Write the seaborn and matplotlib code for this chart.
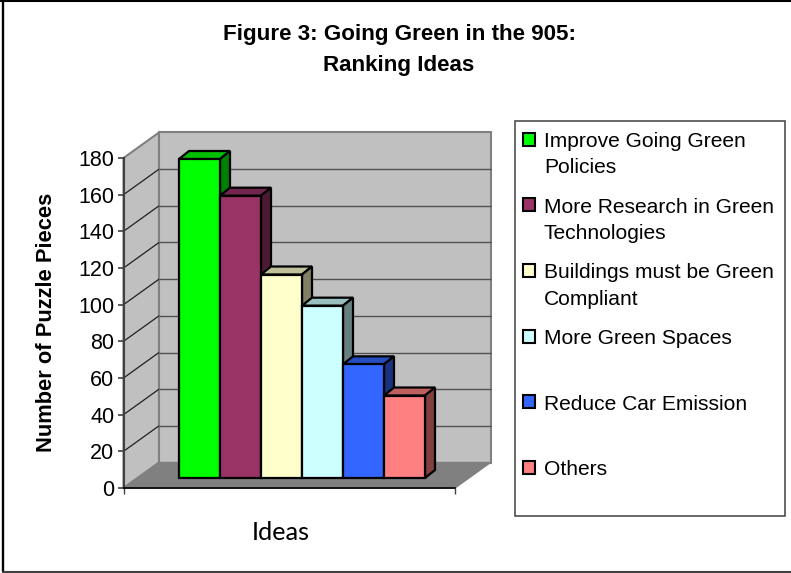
import matplotlib
matplotlib.use("Agg")
import matplotlib.pyplot as plt
import numpy as np
import pandas as pd
import seaborn as sns
from matplotlib.colors import to_rgb
from matplotlib.legend_handler import HandlerPatch
from matplotlib.lines import Line2D
from matplotlib.patches import Patch, Polygon, Rectangle

# Chart content
title_lines = ["Figure 3: Going Green in the 905:", "Ranking Ideas"]
ideas = ["Improve Going Green\nPolicies", "More Research in Green\nTechnologies",
         "Buildings must be Green\nCompliant", "More Green Spaces\n ",
         "Reduce Car Emission\n ", "Others\n "]
pieces = [174, 154, 111, 94, 62, 45]
colors = ["#00FF00", "#993366", "#FFFFCC", "#CCFFFF", "#3366FF", "#FF8080"]
y_ticks = list(range(0, 181, 20))

W, H = 791, 573
sns.set_theme(style="white")
plt.rcParams["font.family"] = ["Liberation Sans", "DejaVu Sans"]

fig = plt.figure(figsize=(W / 100, H / 100), dpi=100, facecolor="white")


def fx(px):
    return px / W


def fy(py):
    return 1 - py / H


# Axes box in pixels: the front edge of the floor and the y axis
left, right, base, top = 123.5, 455.0, 488.0, 158.0
ax = fig.add_axes([fx(left), fy(base), fx(right - left), (base - top) / H])
ax.patch.set_alpha(0)

df = pd.DataFrame({"idea": ideas, "pieces": pieces})
lift = 5.45  # bars stand part-way into the floor
sns.barplot(data=df, x="idea", y="pieces", hue="idea", palette=colors, order=ideas,
            hue_order=ideas, dodge=False, width=1.0, legend=False, bottom=lift,
            edgecolor="black", linewidth=1.6, saturation=1, ax=ax)

xlim = (-0.5 - 55.5 / 41, -0.5 + 276 / 41)
ax.set_xlim(xlim)
ax.set_ylim(0, 180)

# Oblique offsets in data units
x_per_px = (xlim[1] - xlim[0]) / (right - left)
y_per_px = 180 / (base - top)
wall_dx, wall_dy = 35.5 * x_per_px, 25.5 * y_per_px
bar_dx, bar_dy = 10 * x_per_px, 8 * y_per_px


def face(points, color, edge, lw, z):
    ax.add_patch(Polygon(points, closed=True, facecolor=color, edgecolor=edge,
                         linewidth=lw, zorder=z, clip_on=False, joinstyle="miter"))


bars = [p for p in ax.patches if isinstance(p, Rectangle)][:len(pieces)]

x0, x1 = xlim
ymax = 180
wall_edge = "#808080"
face([(x0, 0), (x0 + wall_dx, wall_dy), (x0 + wall_dx, ymax + wall_dy), (x0, ymax)],
     "#C0C0C0", wall_edge, 1.5, 0.5)
face([(x0 + wall_dx, wall_dy), (x1 + wall_dx, wall_dy), (x1 + wall_dx, ymax + wall_dy),
      (x0 + wall_dx, ymax + wall_dy)], "#C0C0C0", wall_edge, 1.5, 0.5)
face([(x0, 0), (x1, 0), (x1 + wall_dx, wall_dy), (x0 + wall_dx, wall_dy)],
     "#808080", wall_edge, 1.0, 0.6)

# Gridlines run along the side wall, then across the back wall
for v in y_ticks[1:-1]:
    ax.plot([x0, x0 + wall_dx], [v, v + wall_dy], color="#202020", lw=0.9, zorder=0.7,
            clip_on=False, solid_capstyle="butt")
    ax.plot([x0 + wall_dx, x1 + wall_dx], [v + wall_dy, v + wall_dy], color="#505050",
            lw=1.0, zorder=0.7, clip_on=False, solid_capstyle="butt")

# Top and side faces for each bar, stacked left to right
for i, bar in enumerate(bars):
    xa, w = bar.get_x(), bar.get_width()
    ya, h = bar.get_y(), bar.get_height()
    rgb = np.array(to_rgb(colors[i]))
    z = 3 + i
    bar.set_zorder(z + 0.2)
    bar.set_clip_on(False)
    xb, yt = xa + w, ya + h
    face([(xa, yt), (xb, yt), (xb + bar_dx, yt + bar_dy), (xa + bar_dx, yt + bar_dy)],
         tuple(rgb * 0.75), "black", 1.6, z)
    face([(xb, ya), (xb + bar_dx, ya + bar_dy), (xb + bar_dx, yt + bar_dy), (xb, yt)],
         tuple(rgb * 0.5), "black", 1.6, z)

# Axes furniture
sns.despine(ax=ax, top=True, right=True)
ax.spines["left"].set_color("#404040")
ax.spines["left"].set_linewidth(1.5)
ax.spines["bottom"].set_color("black")
ax.spines["bottom"].set_linewidth(1.2)
ax.set_yticks(y_ticks)
ax.tick_params(axis="y", left=True, length=4.5, width=1.2, color="#404040", pad=2,
               labelsize=15.5, labelcolor="black")
ax.set_xticks(list(xlim), labels=["", ""])
ax.tick_params(axis="x", bottom=True, length=4.5, width=1.0, color="#404040")
ax.set_xlabel("")
ax.set_ylabel("")

fig.text(fx(47), fy(322), "Number of Puzzle Pieces", rotation=90, ha="center", va="center",
         fontsize=15.75, fontweight="bold", color="black")
fig.text(fx(281), fy(532), "Ideas", ha="center", va="center", fontsize=18.2,
         family=["Lato", "DejaVu Sans"], color="black")
fig.text(fx(400), fy(34.5), title_lines[0], ha="center", va="center", fontsize=16.1,
         fontweight="bold", color="black")
fig.text(fx(398.6), fy(65), title_lines[1], ha="center", va="center", fontsize=16.1,
         fontweight="bold", color="black")


def legend_swatch(legend, orig_handle, xdescent, ydescent, width, height, fontsize):
    # Sit the swatch beside the first line of a two-line label
    return Rectangle((-xdescent, -ydescent + 11.2), width, height)


# Legend frame, with the entries set slightly below its top edge
fig.add_artist(Rectangle((fx(514.7), fy(516)), fx(270), 395 / H, transform=fig.transFigure,
                         facecolor="white", edgecolor="#404040", linewidth=1.1))
handles = [Patch(facecolor=c, edgecolor="black", linewidth=1.5) for c in colors]
leg = fig.legend(handles, ideas, loc="upper left",
                 bbox_to_anchor=(fx(514.7), fy(516), fx(270), 392 / H), mode="expand",
                 borderaxespad=0, borderpad=0.38, labelspacing=0.96, handlelength=0.58,
                 handleheight=0.58, handletextpad=0.43, fontsize=15.1, fancybox=False,
                 frameon=False,
                 handler_map={Patch: HandlerPatch(patch_func=legend_swatch)})
leg.set_zorder(5)
for t in leg.get_texts():
    t.set_color("black")
    t.set_linespacing(1.5)

# Outer chart frame: top, left and bottom rules only
for xs, ys, col, lw in [((0, W), (0.8, 0.8), "black", 1.5),
                        ((2.5, 2.5), (0, 572), "black", 1.7),
                        ((1.5, W), (571.8, 571.8), "#404040", 1.5)]:
    fig.add_artist(Line2D([fx(v) for v in xs], [fy(v) for v in ys],
                          transform=fig.transFigure, color=col, lw=lw,
                          solid_capstyle="butt"))

fig.savefig("out.png", dpi=100, facecolor="white")
